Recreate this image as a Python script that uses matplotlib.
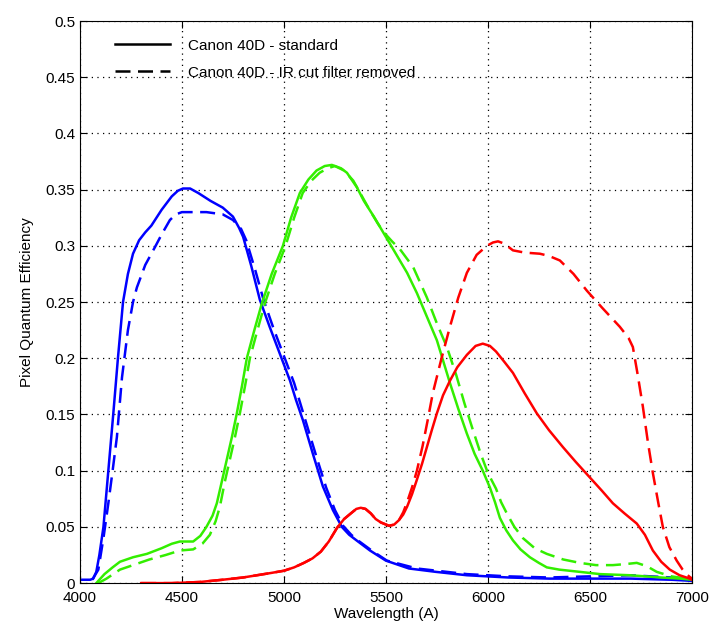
#! /usr/bin/env python3

import matplotlib as mpl
mpl.use('Agg')
import matplotlib.pyplot as plt
import numpy as np

mpl.rcParams['font.family'] = 'Liberation Sans'
mpl.rcParams['font.size'] = 11
mpl.rcParams['xtick.direction'] = 'in'
mpl.rcParams['ytick.direction'] = 'in'
mpl.rcParams['xtick.top'] = True
mpl.rcParams['ytick.right'] = True

# Canon 40D pixel QE per channel (wavelength in Angstrom)
blue_std_wl = [4000, 4050, 4065, 4080, 4095, 4115, 4139, 4163, 4186, 4211, 4235, 4260, 4290, 4320,
               4350, 4400, 4450, 4480, 4505, 4540, 4580, 4640, 4700, 4750, 4780, 4800, 4840, 4882,
               4930, 4980, 5030, 5059, 5093, 5142, 5191, 5240, 5284, 5320, 5356, 5422, 5500, 5613,
               5745, 5897, 6100, 6300, 6500, 6700, 6900, 7000]
blue_std_qe = [0.003, 0.003, 0.004, 0.010, 0.025, 0.050, 0.100, 0.150, 0.200, 0.250, 0.275, 0.293, 0.305, 0.312,
               0.318, 0.332, 0.344, 0.349, 0.351, 0.351, 0.347, 0.340, 0.334, 0.326, 0.316, 0.308, 0.282, 0.252,
               0.228, 0.204, 0.180, 0.163, 0.145, 0.115, 0.086, 0.065, 0.050, 0.043, 0.038, 0.029, 0.020, 0.013,
               0.010, 0.007, 0.005, 0.004, 0.004, 0.004, 0.003, 0.002]

blue_ir_wl = [4060, 4090, 4115, 4139, 4160, 4181, 4206, 4235, 4260, 4279, 4320, 4368, 4400, 4441,
              4470, 4500, 4550, 4620, 4700, 4750, 4790, 4815, 4860, 4900, 4950, 5000, 5050, 5080,
              5110, 5160, 5207, 5250, 5290, 5330, 5370, 5430, 5505, 5652, 5897, 6100, 6300, 6500,
              6700, 6900, 7000]
blue_ir_qe = [0.003, 0.012, 0.040, 0.071, 0.100, 0.130, 0.183, 0.225, 0.250, 0.263, 0.283, 0.299, 0.310, 0.323,
              0.328, 0.330, 0.330, 0.330, 0.328, 0.323, 0.315, 0.305, 0.278, 0.252, 0.226, 0.202, 0.178, 0.160,
              0.142, 0.112, 0.085, 0.065, 0.051, 0.043, 0.037, 0.029, 0.020, 0.013, 0.008, 0.006, 0.005, 0.006,
              0.007, 0.005, 0.002]

green_std_wl = [4080, 4120, 4160, 4196, 4260, 4328, 4400, 4450, 4490, 4555, 4590, 4620, 4650, 4671,
                4695, 4720, 4745, 4769, 4795, 4818, 4855, 4892, 4940, 4995, 5035, 5078, 5120, 5160,
                5200, 5235, 5280, 5309, 5358, 5392, 5441, 5490, 5539, 5604, 5652, 5701, 5750, 5814,
                5855, 5897, 5935, 5975, 6010, 6035, 6059, 6090, 6123, 6160, 6206, 6250, 6289, 6350,
                6451, 6550, 6696, 6850, 6941, 7000]
green_std_qe = [0.000, 0.008, 0.014, 0.019, 0.023, 0.026, 0.031, 0.035, 0.037, 0.037, 0.042, 0.050, 0.060, 0.071,
                0.090, 0.110, 0.130, 0.151, 0.176, 0.200, 0.225, 0.249, 0.275, 0.300, 0.325, 0.347, 0.359, 0.367,
                0.371, 0.372, 0.369, 0.365, 0.352, 0.340, 0.326, 0.311, 0.296, 0.276, 0.258, 0.237, 0.216, 0.178,
                0.155, 0.133, 0.115, 0.100, 0.085, 0.072, 0.058, 0.047, 0.038, 0.030, 0.023, 0.018, 0.014, 0.012,
                0.010, 0.008, 0.007, 0.005, 0.004, 0.003]

green_ir_wl = [4090, 4130, 4196, 4260, 4340, 4420, 4490, 4555, 4600, 4637, 4665, 4686, 4710, 4735,
               4760, 4784, 4810, 4833, 4870, 4907, 4955, 5008, 5050, 5092, 5135, 5175, 5215, 5250,
               5295, 5340, 5380, 5420, 5460, 5490, 5530, 5569, 5634, 5701, 5750, 5799, 5845, 5885,
               5927, 5965, 6000, 6040, 6065, 6093, 6130, 6172, 6230, 6289, 6370, 6451, 6530, 6613,
               6680, 6730, 6780, 6828, 6900, 6975, 7000]
green_ir_qe = [0.000, 0.004, 0.012, 0.016, 0.021, 0.025, 0.029, 0.030, 0.035, 0.043, 0.055, 0.068, 0.090, 0.110,
               0.130, 0.151, 0.176, 0.200, 0.225, 0.249, 0.275, 0.300, 0.325, 0.347, 0.358, 0.365, 0.369, 0.371,
               0.367, 0.358, 0.345, 0.332, 0.320, 0.312, 0.304, 0.297, 0.281, 0.254, 0.231, 0.210, 0.185, 0.160,
               0.136, 0.115, 0.098, 0.084, 0.072, 0.062, 0.050, 0.040, 0.031, 0.026, 0.021, 0.018, 0.016, 0.016,
               0.017, 0.018, 0.015, 0.010, 0.006, 0.004, 0.003]

red_std_wl = [4300, 4450, 4588, 4700, 4800, 4936, 5000, 5050, 5098, 5140, 5181, 5220, 5260, 5295,
              5328, 5355, 5377, 5400, 5426, 5450, 5475, 5515, 5540, 5564, 5585, 5604, 5628, 5652,
              5677, 5701, 5725, 5750, 5780, 5814, 5850, 5897, 5940, 5975, 6010, 6040, 6080, 6123,
              6180, 6240, 6300, 6368, 6430, 6500, 6560, 6613, 6670, 6730, 6770, 6809, 6850, 6892,
              6940, 6990, 7000]
red_std_qe = [0.000, 0.000, 0.001, 0.003, 0.005, 0.009, 0.011, 0.014, 0.018, 0.022, 0.028, 0.037, 0.049, 0.057,
              0.062, 0.066, 0.067, 0.066, 0.062, 0.057, 0.054, 0.051, 0.052, 0.056, 0.061, 0.068, 0.079, 0.092,
              0.106, 0.121, 0.136, 0.151, 0.167, 0.180, 0.192, 0.203, 0.211, 0.213, 0.211, 0.206, 0.197, 0.187,
              0.169, 0.151, 0.136, 0.121, 0.108, 0.094, 0.082, 0.071, 0.062, 0.053, 0.043, 0.029, 0.019, 0.012,
              0.007, 0.004, 0.003]

red_ir_wl = [4300, 4450, 4588, 4700, 4800, 4936, 5000, 5050, 5098, 5140, 5181, 5220, 5260, 5295,
             5328, 5355, 5377, 5400, 5426, 5450, 5475, 5515, 5540, 5564, 5585, 5604, 5628, 5652,
             5680, 5705, 5730, 5770, 5814, 5855, 5897, 5945, 5995, 6025, 6050, 6080, 6123, 6180,
             6255, 6300, 6353, 6420, 6486, 6560, 6647, 6690, 6711, 6735, 6760, 6785, 6809, 6835,
             6858, 6890, 6926, 6955, 6980, 7000]
red_ir_qe = [0.000, 0.000, 0.001, 0.003, 0.005, 0.009, 0.011, 0.014, 0.018, 0.022, 0.028, 0.037, 0.049, 0.057,
             0.062, 0.066, 0.067, 0.066, 0.062, 0.057, 0.054, 0.051, 0.052, 0.056, 0.063, 0.072, 0.085, 0.100,
             0.122, 0.145, 0.169, 0.198, 0.228, 0.254, 0.276, 0.292, 0.300, 0.303, 0.304, 0.302, 0.296, 0.294,
             0.293, 0.291, 0.287, 0.275, 0.260, 0.245, 0.228, 0.218, 0.210, 0.185, 0.157, 0.125, 0.098, 0.072,
             0.050, 0.032, 0.020, 0.012, 0.007, 0.004]

blue = '#0000ff'
green = '#33ee00'
red = '#ff0000'

fig = plt.figure(figsize=[7.11, 6.27], dpi=100)
ax = fig.add_axes([0.1125, 0.070, 0.8605, 0.8965])

lw = 1.8
dash = (0, (6, 3))
ax.plot(blue_std_wl, blue_std_qe, color=blue, lw=lw)
ax.plot(blue_ir_wl, blue_ir_qe, color=blue, lw=lw, linestyle=dash)
ax.plot(green_std_wl, green_std_qe, color=green, lw=lw)
ax.plot(green_ir_wl, green_ir_qe, color=green, lw=lw, linestyle=dash)
ax.plot(red_std_wl, red_std_qe, color=red, lw=lw)
ax.plot(red_ir_wl, red_ir_qe, color=red, lw=lw, linestyle=dash)

# legend entries in black
ax.plot([], [], color='k', lw=lw, label='Canon 40D - standard')
ax.plot([], [], color='k', lw=lw, linestyle=dash, label='Canon 40D - IR cut filter removed')
handles, labels = ax.get_legend_handles_labels()
ax.legend(handles, labels, loc='upper left', frameon=False, handlelength=3.6,
          handletextpad=1.2, labelspacing=0.85, bbox_to_anchor=(0.035, 0.993), fontsize=11)

ax.set_xlim(4000, 7000)
ax.set_ylim(0, 0.5)
ax.set_xticks(np.arange(4000, 7001, 500))
ax.set_yticks(np.arange(0, 0.501, 0.05))
ax.set_yticklabels(['0', '0.05', '0.1', '0.15', '0.2', '0.25', '0.3', '0.35', '0.4', '0.45', '0.5'])
ax.grid(True, linestyle=(0, (1, 3.5)), color='k', linewidth=0.9)
ax.tick_params(length=5, width=0.8)
ax.tick_params(axis='x', pad=6)
for s in ax.spines.values():
    s.set_linewidth(0.8)

ax.set_xlabel('Wavelength (A)', labelpad=1)
ax.set_ylabel('Pixel Quantum Efficiency', labelpad=8)

plt.savefig('out.png', dpi=100)
